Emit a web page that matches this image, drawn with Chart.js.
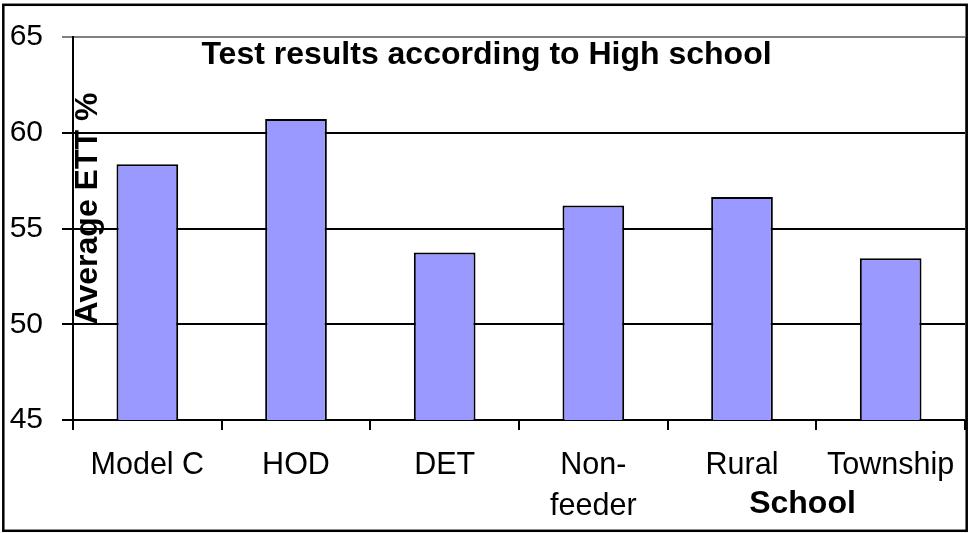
<!DOCTYPE html>
<html>
<head>
<meta charset="utf-8">
<script src="https://cdn.jsdelivr.net/npm/chart.js@4"></script>
<style>
  html, body { margin: 0; padding: 0; background: #ffffff; }
  #wrap { width: 970px; height: 533px; }
</style>
</head>
<body>
<div id="wrap"><canvas id="chart" width="970" height="533"></canvas></div>
<script>
// School categories and their average ETT scores
const schools = ['Model C', 'HOD', 'DET', ['Non-', 'feeder'], 'Rural', 'Township'];
const averageEtt = [58.35, 60.72, 53.75, 56.2, 56.65, 53.45];
const yTicks = [45, 50, 55, 60, 65];

const chartTitle = 'Test results according to High school';
const yTitle = 'Average ETT %';
const xTitle = 'School';

const FONT = '"Liberation Sans", Arial, Helvetica, sans-serif';

// Draws the white background, the titles and the outer frame
const decorations = {
  id: 'decorations',
  beforeDraw(chart) {
    const ctx = chart.ctx;
    ctx.save();
    ctx.fillStyle = '#ffffff';
    ctx.fillRect(0, 0, chart.width, chart.height);
    ctx.restore();
  },
  afterDraw(chart) {
    const ctx = chart.ctx;
    const area = chart.chartArea;
    ctx.save();

    // plot area edge on the right
    ctx.strokeStyle = '#808080';
    ctx.lineWidth = 2;
    ctx.beginPath();
    ctx.moveTo(area.right + 1, area.top);
    ctx.lineTo(area.right + 1, area.bottom);
    ctx.stroke();

    ctx.fillStyle = '#000000';
    ctx.font = 'bold 32px ' + FONT;
    ctx.textBaseline = 'alphabetic';

    // main title
    ctx.textAlign = 'center';
    ctx.fillText(chartTitle, 486.5, 63.5);

    // x axis title
    ctx.fillText(xTitle, 802.5, 513);

    // y axis title, rotated
    ctx.save();
    ctx.translate(96.5, 208.5);
    ctx.rotate(-Math.PI / 2);
    ctx.textAlign = 'center';
    ctx.fillText(yTitle, 0, 0);
    ctx.restore();

    // outer frame
    ctx.strokeStyle = '#000000';
    ctx.lineWidth = 2.5;
    ctx.strokeRect(3.3, 4.8, 963.4, 526);
    ctx.restore();
  }
};

new Chart(document.getElementById('chart'), {
  type: 'bar',
  data: {
    labels: schools,
    datasets: [{
      data: averageEtt,
      backgroundColor: '#9999ff',
      borderColor: '#000000',
      borderWidth: 2,
      categoryPercentage: 1.0,
      barPercentage: 0.415
    }]
  },
  options: {
    responsive: false,
    animation: false,
    devicePixelRatio: 1,
    layout: { padding: { top: 32, right: 3, bottom: 0, left: 0 } },
    plugins: {
      legend: { display: false },
      title: { display: false },
      tooltip: { enabled: false }
    },
    scales: {
      x: {
        grid: {
          offset: true,
          drawOnChartArea: false,
          drawTicks: true,
          tickLength: 10,
          color: '#000000',
          lineWidth: 2
        },
        border: { display: true, color: '#000000', width: 2 },
        ticks: {
          color: '#000000',
          font: { family: FONT, size: 30.5, lineHeight: 1.34 },
          padding: 15.5,
          maxRotation: 0,
          autoSkip: false
        },
        afterFit(scale) { scale.height = 113; }
      },
      y: {
        min: 45,
        max: 65,
        afterBuildTicks(scale) {
          scale.ticks = yTicks.map(v => ({ value: v }));
        },
        grid: {
          drawTicks: true,
          tickLength: 11,
          color: (c) => (c.tick && c.tick.value === 65 ? '#808080' : '#000000'),
          lineWidth: 2
        },
        border: { display: true, color: '#000000', width: 2 },
        ticks: {
          color: '#000000',
          font: { family: FONT, size: 30 },
          padding: 19
        },
        afterFit(scale) { scale.width = 73; }
      }
    }
  },
  plugins: [decorations]
});
</script>
</body>
</html>
